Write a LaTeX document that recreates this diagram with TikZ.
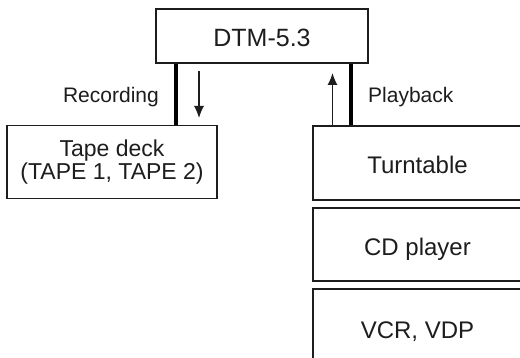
\documentclass[tikz,border=0pt]{standalone}
\usepackage{fontspec}
\setmainfont{Liberation Sans}
\usetikzlibrary{arrows.meta}
\definecolor{ink}{RGB}{30,28,28}
\tikzset{
  box/.style={draw=ink, line width=1.2pt, rectangle, inner sep=0pt, text=ink,
    font=\fontsize{24}{23.3}\selectfont, text height=23.5pt, text depth=1.5pt},
  lbl/.style={inner sep=0pt, text=ink, font=\fontsize{21}{24}\selectfont},
  bar/.style={draw=black, line width=4.6pt},
  flow/.style={draw=ink, line width=1.1pt, -{Latex[length=12pt,width=10pt]}}
}
\begin{document}
\begin{tikzpicture}[x=1pt,y=-1pt]
\useasboundingbox (0,0) rectangle (520,358);
\clip (0,0) rectangle (520,358);
\fill[white] (0,0) rectangle (520,358);
\node[box, minimum width=212pt, minimum height=54pt, font=\fontsize{25}{25}\selectfont] (dtm) at (262,36) {DTM-5.3};
\node[box, minimum width=210pt, minimum height=73pt, align=center, text height=, text depth=, font=\fontsize{23}{23.3}\selectfont] (tape) at (112,162) {Tape deck\\(TAPE 1, TAPE 2)};
\node[box, minimum width=209pt, minimum height=74pt] (turn) at (417.5,163) {Turntable};
\node[box, minimum width=209pt, minimum height=73pt] (cd) at (417.5,244.5) {CD player};
\node[box, minimum width=209pt, minimum height=77pt] (vcr) at (417.5,327.5) {VCR, VDP};
\draw[bar] (176,0 |- dtm.south) -- (176,0 |- tape.north);
\draw[bar] (351,0 |- dtm.south) -- (351,0 |- turn.north);
\coordinate (rs) at (199,71);
\coordinate (re) at (199,118);
\coordinate (ps) at (332.5,126);
\coordinate (pe) at (332.5,73);
\draw[flow] (rs) -- (re);
\draw[flow] (ps) -- (pe);
\node[lbl, anchor=base east] (rec) at (159,103) {Recording};
\node[lbl, anchor=base west] (play) at (368,103) {Playback};
\end{tikzpicture}
\end{document}
